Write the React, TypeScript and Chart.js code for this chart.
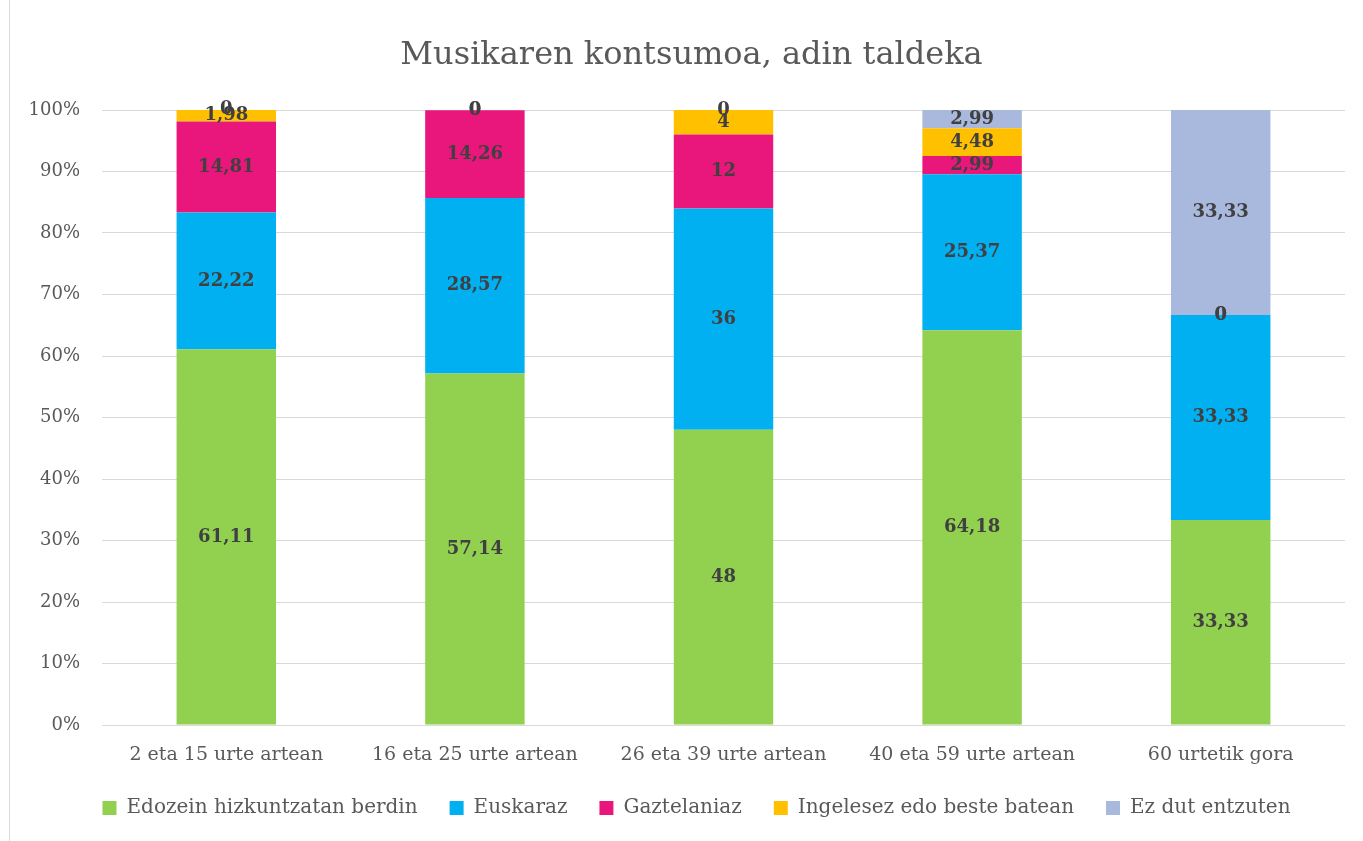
import React, { useEffect, useRef } from "react";
import { Chart, registerables } from "chart.js";

Chart.register(...registerables);

const categories = [
  "2 eta 15 urte artean",
  "16 eta 25 urte artean",
  "26 eta 39 urte artean",
  "40 eta 59 urte artean",
  "60 urtetik gora",
];

const seriesNames = [
  "Edozein hizkuntzatan berdin",
  "Euskaraz",
  "Gaztelaniaz",
  "Ingelesez edo beste batean",
  "Ez dut entzuten",
];

const edozein = [61.11, 57.14, 48, 64.18, 33.33];
const euskaraz = [22.22, 28.57, 36, 25.37, 33.33];
const gaztelaniaz = [14.81, 14.26, 12, 2.99, 0];
const ingelesez = [1.98, 0, 4, 4.48, 0];
const ezDut = [0, 0, 0, 2.99, 33.33];

const seriesColors = ["#92D050", "#00B0F0", "#E9177B", "#FFC000", "#A9B8DD"];

const yTicks = [0, 10, 20, 30, 40, 50, 60, 70, 80, 90, 100];

const FONT = '"DejaVu Serif", "Liberation Serif", serif';

const fmt = (v: number) => String(v).replace(".", ",");

const valueLabels = {
  id: "valueLabels",
  afterDatasetsDraw(chart: any) {
    const ctx = chart.ctx;
    ctx.save();
    ctx.font = `bold 18px ${FONT}`;
    ctx.fillStyle = "#404040";
    ctx.textAlign = "center";
    ctx.textBaseline = "middle";
    chart.data.datasets.forEach((ds: any, i: number) => {
      const meta = chart.getDatasetMeta(i);
      meta.data.forEach((el: any, j: number) => {
        const v = ds.data[j];
        if (v == null) return;
        const p = el.getProps(["x", "y", "base"], true);
        ctx.fillText(fmt(v), p.x, (p.y + p.base) / 2);
      });
    });
    ctx.restore();
  },
};

const boxShift = {
  id: "boxShift",
  afterLayout(chart: any) {
    const lg = chart.legend;
    if (lg) {
      lg.left += 36;
      lg.right += 2;
    }
    const tt = chart.titleBlock;
    if (tt) {
      tt.left += 28;
    }
  },
};

export default function App() {
  const ref = useRef<HTMLCanvasElement | null>(null);

  useEffect(() => {
    if (!ref.current) return;
    const data = [edozein, euskaraz, gaztelaniaz, ingelesez, ezDut];
    const chart = new Chart(ref.current, {
      type: "bar",
      data: {
        labels: categories,
        datasets: seriesNames.map((name, i) => ({
          label: name,
          data: data[i],
          backgroundColor: seriesColors[i],
          borderWidth: 0,
          categoryPercentage: 1,
          barPercentage: 0.4,
        })),
      },
      options: {
        responsive: false,
        animation: false,
        devicePixelRatio: 1,
        layout: { padding: { left: 10, right: 18, top: 0, bottom: 13 } },
        plugins: {
          title: {
            display: true,
            text: "Musikaren kontsumoa, adin taldeka",
            color: "#595959",
            font: { family: FONT, size: 32, weight: "normal" },
            padding: { top: 36, bottom: 35.6 },
          },
          legend: {
            position: "bottom",
            labels: {
              color: "#595959",
              font: { family: FONT, size: 20 },
              boxWidth: 14,
              boxHeight: 14,
              padding: 32,
            },
          },
          tooltip: { enabled: false },
        },
        scales: {
          x: {
            stacked: true,
            grid: { display: false, drawTicks: false },
            border: { display: false },
            ticks: {
              color: "#595959",
              font: { family: FONT, size: 19 },
              padding: 19,
              maxRotation: 0,
            },
            afterFit: (s: any) => {
              s.height = 41;
            },
          },
          y: {
            stacked: true,
            min: 0,
            max: 100,
            afterBuildTicks: (s: any) => {
              s.ticks = yTicks.map((v) => ({ value: v }));
            },
            grid: { color: "#D9D9D9", lineWidth: 1, drawTicks: false },
            border: { display: false },
            ticks: {
              color: "#595959",
              font: { family: FONT, size: 18 },
              padding: 22,
              callback: (v: any) => v + "%",
            },
            afterFit: (s: any) => {
              s.width = 92;
            },
          },
        },
      },
      plugins: [valueLabels, boxShift],
    });
    return () => chart.destroy();
  }, []);

  return (
    <div
      style={{
        position: "absolute",
        left: 0,
        top: 0,
        width: 1363,
        height: 841,
        background: "#fff",
      }}
    >
      <div
        style={{
          position: "absolute",
          left: 9,
          top: 0,
          bottom: 0,
          borderLeft: "1px solid #D9D9D9",
        }}
      />
      <canvas
        ref={ref}
        width={1363}
        height={841}
        style={{ position: "absolute", left: 0, top: 0 }}
      />
    </div>
  );
}
